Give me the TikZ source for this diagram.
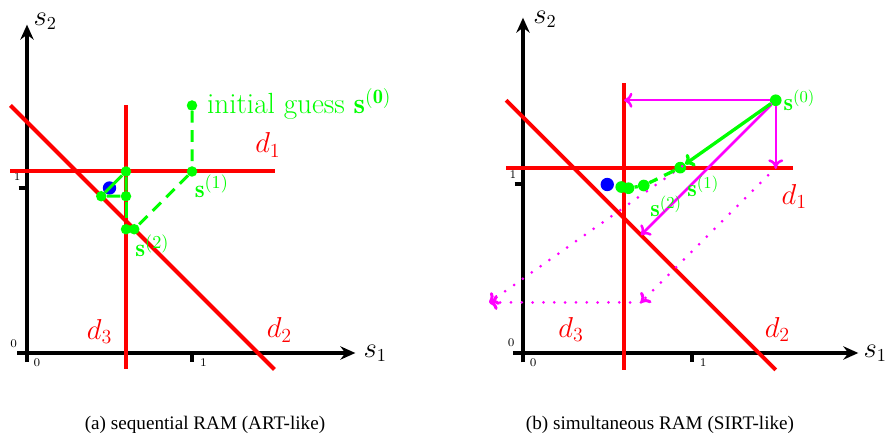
\documentclass[tikz,border=0pt]{standalone}
\usepackage{amsmath,amssymb,bm}
\usepackage{fontspec}
\newfontfamily\capfont{Liberation Serif}
\usetikzlibrary{arrows.meta,positioning,calc}
\definecolor{RAMRed}{RGB}{255,0,0}
\definecolor{RAMGreen}{RGB}{0,255,0}
\definecolor{RAMBlue}{RGB}{0,0,255}
\definecolor{RAMMagenta}{RGB}{255,0,255}

\begin{document}
\begin{tikzpicture}[x=0.6pt,y=0.6pt,
  ramaxis/.style={line width=2.4pt,-{Stealth[length=9pt,width=8pt,inset=3pt]}},
  ramtick/.style={line width=2.4pt},
  ticklabel/.style={font=\fontsize{7}{7}\selectfont,inner sep=0pt},
  axislabel/.style={font=\fontsize{16}{17}\selectfont,inner sep=0pt},
  redline/.style={RAMRed,line width=2.4pt},
  redlabel/.style={RAMRed,font=\fontsize{17}{18}\selectfont,inner sep=0pt},
  gdot/.style={circle,fill=RAMGreen,inner sep=0pt,minimum size=#1},
  gdot/.default=6.3pt,
  bdot/.style={circle,fill=RAMBlue,inner sep=0pt,minimum size=#1},
  bdot/.default=8pt,
  gline/.style={RAMGreen,line width=1.8pt},
  gdash/.style={RAMGreen,line width=1.8pt,dash pattern=on 7pt off 4.5pt},
  glabel/.style={RAMGreen,font=\fontsize{15}{16}\selectfont,inner sep=0pt},
  marrow/.style={RAMMagenta,line width=1.5pt,-{To[length=5pt,width=9pt]}},
  mdot/.style={RAMMagenta,line width=1.8pt,line cap=round,dash pattern=on 0pt off 6.5pt,-{To[length=5pt,width=9pt]}},
  caption/.style={font=\capfont\fontsize{11.5}{13}\selectfont,inner sep=0pt}]
\useasboundingbox (0,0) rectangle (890,433);

\begin{scope}[shift={(16.2pt,48pt)},x=99pt,y=99pt]
\coordinate (a-xl) at (-0.06,0);
\coordinate (a-xr) at (1.99,0);
\coordinate (a-yb) at (0,-0.055);
\coordinate (a-yt) at (0,1.99);
\draw[ramaxis] (a-xl) -- (a-xr);
\draw[ramaxis] (a-yb) -- (a-yt);
\draw[ramtick] (1,0) -- (1,-0.055);
\draw[ramtick] (-0.05,1) -- (0,1);
\node[ticklabel] (a-t0x) at (0.06,-0.06) {0};
\node[ticklabel] (a-t0y) at (-0.08,0.055) {0};
\node[ticklabel] (a-t1x) at (1.07,-0.06) {1};
\node[ticklabel] (a-t1y) at (-0.06,1.07) {1};
\node[axislabel] (a-s1lab) at (2.11,0) {$s_1$};
\node[axislabel] (a-s2lab) at (0.11,2.01) {$s_2$};

\draw[redline] (-0.1,1.1) -- (1.5,1.1);
\draw[redline] (0.6,1.5) -- (0.6,-0.1);
\draw[redline] (-0.1,1.5) -- (1.5,-0.1);
\node[redlabel] (a-d1) at (1.46,1.26) {$d_1$};
\node[redlabel] (a-d2) at (1.53,0.14) {$d_2$};
\node[redlabel] (a-d3) at (0.44,0.13) {$d_3$};

\node[bdot] (a-sol) at (0.5,1) {};
\node[gdot] (a-s0) at (1,1.5) {};
\node[gdot] (a-s1) at (1,1.1) {};
\node[gdot] (a-p1) at (0.65,0.75) {};
\node[gdot] (a-s2) at (0.6,0.75) {};
\node[gdot] (a-q1) at (0.6,1.1) {};
\node[gdot] (a-q2) at (0.45,0.95) {};
\node[gdot] (a-q3) at (0.6,0.95) {};
\draw[gdash] (a-s0) -- (a-s1) -- (a-p1);
\draw[gline] (a-q3) -- (a-q1) -- (a-q2) -- (a-q3);
\draw[gline,dash pattern=on 10pt off 20pt] (a-q3) -- (a-s2);
\node[glabel,anchor=west,font=\fontsize{17.5}{18}\selectfont] (a-init) at (1.09,1.51) {initial guess $\mathbf{s}^{(\mathbf{0})}$};
\node[glabel] (a-l1) at (1.12,1.01) {$\mathbf{s}^{(1)}$};
\node[glabel] (a-l2) at (0.76,0.65) {$\mathbf{s}^{(2)}$};
\end{scope}

\begin{scope}[shift={(313.8pt,48pt)},x=101.1pt,y=101.1pt]
\coordinate (b-xl) at (-0.06,0);
\coordinate (b-xr) at (1.99,0);
\coordinate (b-yb) at (0,-0.055);
\coordinate (b-yt) at (0,1.99);
\draw[ramaxis] (b-xl) -- (b-xr);
\draw[ramaxis] (b-yb) -- (b-yt);
\draw[ramtick] (1,0) -- (1,-0.055);
\draw[ramtick] (-0.05,1) -- (0,1);
\node[ticklabel] (b-t0x) at (0.06,-0.06) {0};
\node[ticklabel] (b-t0y) at (-0.07,0.06) {0};
\node[ticklabel] (b-t1x) at (1.07,-0.06) {1};
\node[ticklabel] (b-t1y) at (-0.06,1.06) {1};
\node[axislabel] (b-s1lab) at (2.09,0) {$s_1$};
\node[axislabel] (b-s2lab) at (0.13,1.98) {$s_2$};

\draw[redline] (-0.1,1.1) -- (1.6,1.1);
\draw[redline] (0.6,1.6) -- (0.6,-0.1);
\draw[redline] (-0.1,1.5) -- (1.5,-0.1);
\node[redlabel] (b-d1) at (1.61,0.93) {$d_1$};
\node[redlabel] (b-d2) at (1.51,0.14) {$d_2$};
\node[redlabel] (b-d3) at (0.285,0.14) {$d_3$};

\coordinate (b-p3) at (0.6,1.5);
\coordinate (b-p1) at (1.5,1.1);
\coordinate (b-p2) at (0.7,0.7);
\coordinate (b-m) at (0.7,0.3);
\coordinate (b-sum) at (-0.2,0.3);
\node[bdot] (b-sol) at (0.5,1) {};
\node[gdot=7pt] (b-s0) at (1.5,1.5) {};
\node[gdot=7pt] (b-s1) at (0.933,1.1) {};
\node[gdot=7pt] (b-s2) at (0.717,0.994) {};
\node[gdot=7pt] (b-s3) at (0.626,0.978) {};
\node[gdot=7pt] (b-s4) at (0.583,0.985) {};
\draw[mdot] (b-p1) -- (b-m);
\draw[mdot] (b-m) -- (b-sum);
\draw[mdot] (b-s0) -- (b-sum);
\draw[marrow] (b-s0) -- (b-p3);
\draw[marrow] (b-s0) -- (b-p1);
\draw[marrow] (b-s0) -- (b-p2);
\draw[gline,line width=2pt,-{To[length=5pt,width=9pt]}] (b-s0) -- (b-s1);
\draw[gdash,line width=2pt] (b-s1) -- (b-s2);
\draw[gline,line width=2pt] (b-s2) -- (b-s3) -- (b-s4);
\node[glabel,font=\fontsize{14.5}{15}\selectfont] (b-l0) at (1.64,1.5) {$\mathbf{s}^{(0)}$};
\node[glabel,font=\fontsize{14.5}{15}\selectfont] (b-l1) at (1.07,0.99) {$\mathbf{s}^{(1)}$};
\node[glabel,font=\fontsize{14.5}{15}\selectfont] (b-l2) at (0.85,0.87) {$\mathbf{s}^{(2)}$};
\end{scope}

\node[caption] (capa) at (205,8) {(a) sequential RAM (ART-like)};
\node[caption] (capb) at (660,8) {(b) simultaneous RAM (SIRT-like)};
\end{tikzpicture}
\end{document}
